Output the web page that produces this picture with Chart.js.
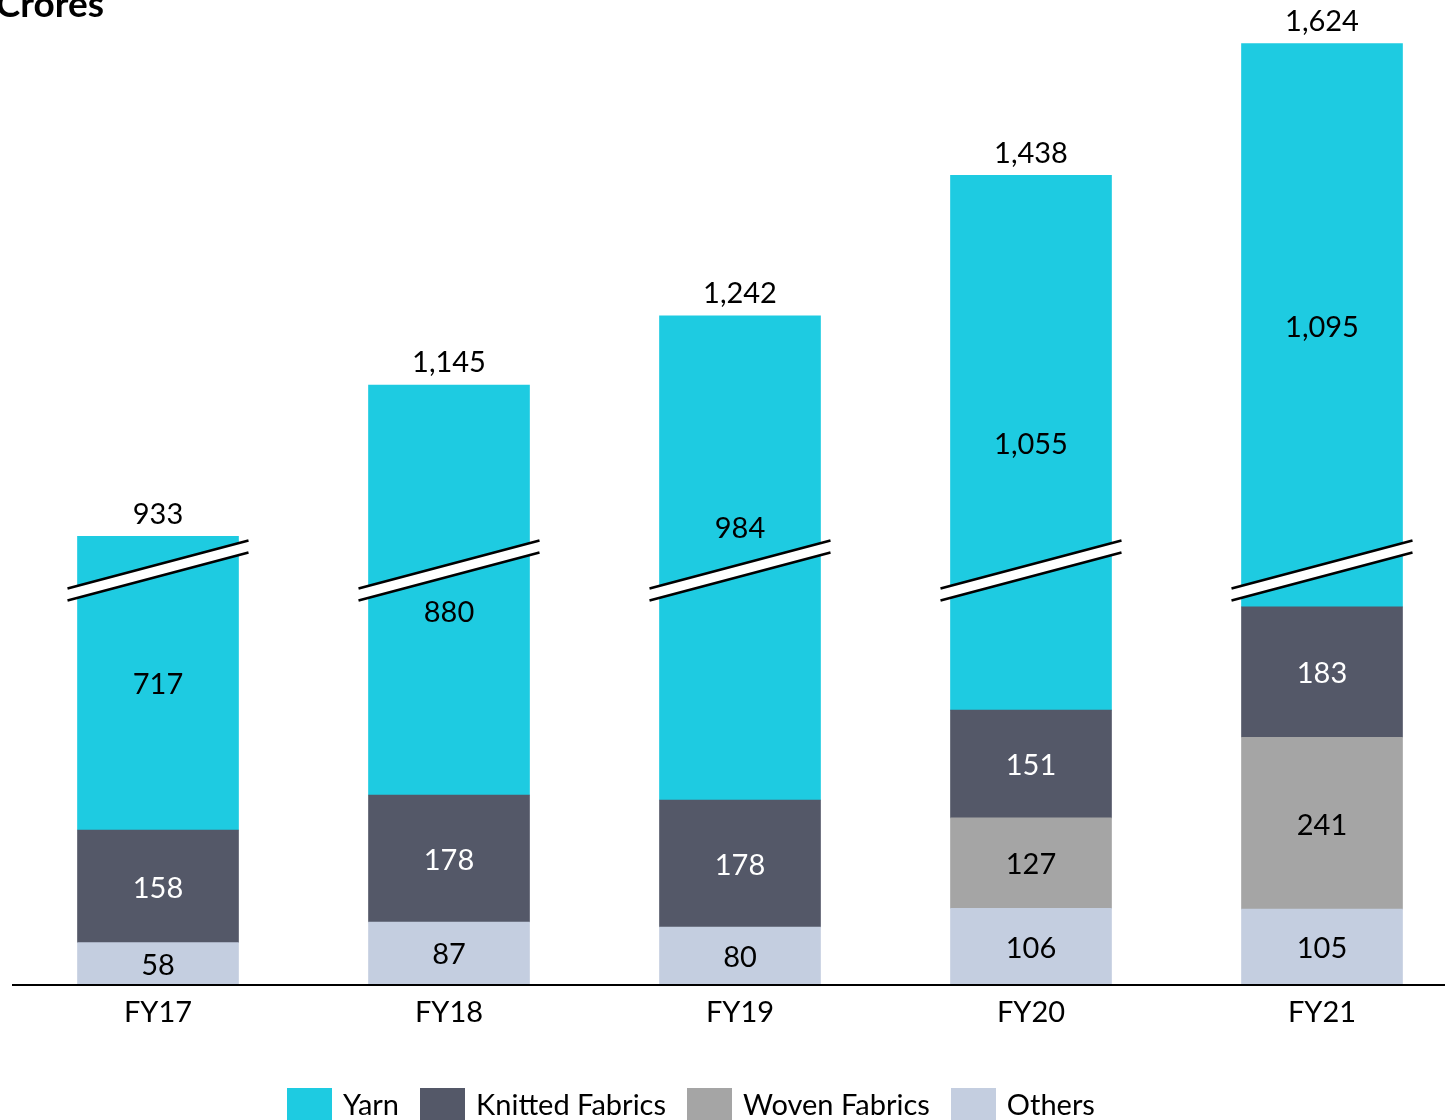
<!DOCTYPE html>
<html>
<head>
<meta charset="utf-8">
<script src="https://cdn.jsdelivr.net/npm/chart.js@4.4.1/dist/chart.umd.min.js"></script>
<style>
  html, body { margin: 0; padding: 0; background: #fff; overflow: hidden; }
  #wrap { position: relative; width: 1445px; height: 1120px; }
  #title { position: absolute; right: 1341px; top: -16px; font: bold 37px Lato; line-height: 37px; color: #000; white-space: nowrap; }
  #legend { position: absolute; left: 287px; top: 1088px; display: flex; font: 29px Lato; color: #000; }
  #legend .item { display: flex; align-items: flex-start; margin-right: 21px; }
  #legend .swatch { width: 45px; height: 40px; margin-right: 11px; }
  #legend .text { line-height: 32px; white-space: nowrap; }
</style>
</head>
<body>
<div id="wrap">
  <canvas id="chart" width="1445" height="1120"></canvas>
  <div id="title">Crores</div>
  <div id="legend"></div>
</div>
<script>
const years = ["FY17", "FY18", "FY19", "FY20", "FY21"];
const others = [58, 87, 80, 106, 105];
const woven = [null, null, null, 127, 241];
const knitted = [158, 178, 178, 151, 183];
const yarn = [717, 880, 984, 1055, 1095];
const totals = [933, 1145, 1242, 1438, 1624];

// broken value axis: the range BREAK_AT .. BREAK_AT + BREAK_GAP is cut out
const BREAK_AT = 580;
const BREAK_GAP = 305;
const Y_MAX = 1685;

function squash(v) {
  if (v <= BREAK_AT) return v;
  if (v >= BREAK_AT + BREAK_GAP) return v - BREAK_GAP;
  return BREAK_AT;
}

class BrokenScale extends Chart.LinearScale {
  getPixelForValue(value) {
    if (value === null || value === undefined) return NaN;
    const lo = squash(this.min);
    const hi = squash(this.max);
    return this.getPixelForDecimal((squash(value) - lo) / (hi - lo));
  }
  getValueForPixel(pixel) {
    const lo = squash(this.min);
    const hi = squash(this.max);
    const s = lo + this.getDecimalForPixel(pixel) * (hi - lo);
    return s <= BREAK_AT ? s : s + BREAK_GAP;
  }
}
BrokenScale.id = "broken";
BrokenScale.defaults = Chart.LinearScale.defaults;
Chart.register(BrokenScale);

const fmt = (v) => v.toLocaleString("en-US");

const breakMarks = {
  id: "breakMarks",
  afterDatasetsDraw(chart) {
    const { ctx } = chart;
    const breakY = chart.scales.y.getPixelForValue(BREAK_AT);
    const slope = 48 / 181;
    const meta = chart.getDatasetMeta(chart.data.datasets.length - 1);
    ctx.save();
    meta.data.forEach((bar) => {
      const { x, width } = bar.getProps(["x", "width"], true);
      const half = width / 2 + 10;
      const yl = breakY + slope * half;
      const yr = breakY - slope * half;
      ctx.fillStyle = "#ffffff";
      ctx.beginPath();
      ctx.moveTo(x - half, yl - 6);
      ctx.lineTo(x + half, yr - 6);
      ctx.lineTo(x + half, yr + 6);
      ctx.lineTo(x - half, yl + 6);
      ctx.closePath();
      ctx.fill();
      ctx.strokeStyle = "#000000";
      ctx.lineWidth = 2.5;
      ctx.beginPath();
      ctx.moveTo(x - half, yl - 6);
      ctx.lineTo(x + half, yr - 6);
      ctx.moveTo(x - half, yl + 6);
      ctx.lineTo(x + half, yr + 6);
      ctx.stroke();
    });
    ctx.restore();
  },
};

const valueLabels = {
  id: "valueLabels",
  afterDatasetsDraw(chart) {
    const { ctx } = chart;
    const breakY = chart.scales.y.getPixelForValue(BREAK_AT);
    ctx.save();
    ctx.font = "29px Lato";
    ctx.textAlign = "center";
    ctx.textBaseline = "middle";
    chart.data.datasets.forEach((ds, i) => {
      chart.getDatasetMeta(i).data.forEach((bar, j) => {
        const v = ds.data[j];
        if (v == null) return;
        const { x, y, base } = bar.getProps(["x", "y", "base"], true);
        let ly = (y + base) / 2 + 2;
        // keep the label clear of the break mark
        if (Math.abs(ly - breakY) < 42) ly = breakY + (ly > breakY ? 42 : -42);
        ctx.fillStyle = ds.labelColor;
        ctx.fillText(fmt(v), x, ly);
      });
    });
    // totals above the stacks
    const topMeta = chart.getDatasetMeta(chart.data.datasets.length - 1);
    ctx.fillStyle = "#000000";
    topMeta.data.forEach((bar, j) => {
      ctx.fillText(fmt(totals[j]), bar.x, bar.y - 22);
    });
    // base line
    const y0 = chart.scales.y.getPixelForValue(0);
    ctx.strokeStyle = "#000000";
    ctx.lineWidth = 2;
    ctx.beginPath();
    ctx.moveTo(12, y0 + 1);
    ctx.lineTo(chart.width, y0 + 1);
    ctx.stroke();
    ctx.restore();
  },
};

const htmlLegend = {
  id: "htmlLegend",
  afterUpdate(chart) {
    const box = document.getElementById("legend");
    box.innerHTML = "";
    chart.data.datasets.slice().reverse().forEach((ds) => {
      const item = document.createElement("div");
      item.className = "item";
      const sw = document.createElement("span");
      sw.className = "swatch";
      sw.style.background = ds.backgroundColor;
      const tx = document.createElement("span");
      tx.className = "text";
      tx.textContent = ds.label;
      item.append(sw, tx);
      box.append(item);
    });
  },
};

const data = {
  labels: years,
  datasets: [
    { label: "Others", data: others, backgroundColor: "#c4cee0", labelColor: "#000000" },
    { label: "Woven Fabrics", data: woven, backgroundColor: "#a5a5a5", labelColor: "#000000" },
    { label: "Knitted Fabrics", data: knitted, backgroundColor: "#545868", labelColor: "#ffffff" },
    { label: "Yarn", data: yarn, backgroundColor: "#1ecbe1", labelColor: "#000000" },
  ],
};

const config = {
  type: "bar",
  data: data,
  options: {
    responsive: false,
    animation: false,
    layout: {
      padding: { left: 158, right: 123, top: 0, bottom: 0 },
    },
    datasets: {
      bar: { barThickness: 161, clip: false, borderWidth: 0 },
    },
    scales: {
      x: {
        stacked: true,
        offset: false,
        grid: { display: false, drawTicks: false },
        border: { display: false },
        ticks: {
          color: "#000000",
          padding: 11,
          maxRotation: 0,
          font: { family: "Lato", size: 29 },
        },
        afterFit(scale) {
          scale.height = 136;
        },
      },
      y: {
        type: "broken",
        stacked: true,
        display: false,
        min: 0,
        max: Y_MAX,
        bounds: "data",
      },
    },
    plugins: {
      legend: { display: false },
      tooltip: { enabled: false },
    },
  },
  plugins: [breakMarks, valueLabels, htmlLegend],
};

const chart = new Chart(document.getElementById("chart"), config);
</script>
</body>
</html>
